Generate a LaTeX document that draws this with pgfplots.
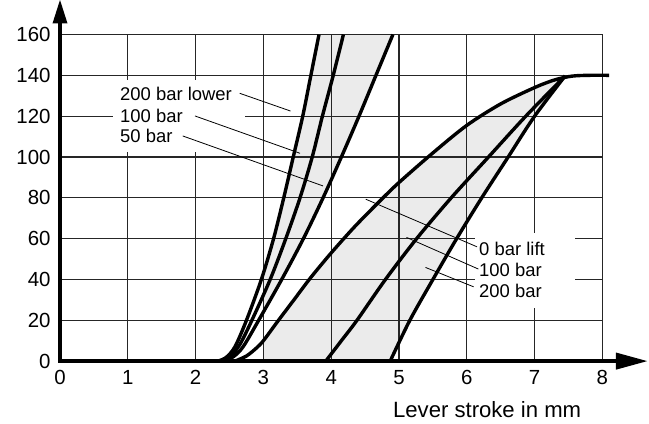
\documentclass[border=0pt]{standalone}
\usepackage{fontspec}
\setmainfont{Liberation Sans}
\usepackage{pgfplots}
\pgfplotsset{compat=1.18}
\usepgfplotslibrary{fillbetween}
\begin{document}
\begin{tikzpicture}
\begin{axis}[
  set layers,
  scale only axis, width=542.4bp, height=326.6bp,
  xmin=0, xmax=8, ymin=0, ymax=160,
  xtick={0,...,8}, ytick={0,20,...,160},
  grid=major, grid style={line width=1.1bp, black!85},
  major tick length=0pt,
  axis line style={draw=none},
  clip=false,
  /pgf/number format/assume math mode=true,
  tick label style={font=\fontsize{20.5}{24}\selectfont},
  xticklabel style={yshift=-6bp},
  yticklabel style={xshift=-6bp},
]
% left group
\addplot[line width=3.4bp, smooth, name path=c1] coordinates {(2.33,0) (2.45,1.8) (2.58,7) (2.75,20) (2.97,40) (3.15,60) (3.30,80) (3.44,100) (3.58,120) (3.70,140) (3.82,160)};
\addplot[line width=3.4bp, smooth, name path=c2] coordinates {(2.36,0) (2.5,2) (2.65,8) (2.83,20) (3.10,40) (3.33,60) (3.54,80) (3.72,100) (3.87,120) (4.03,140) (4.18,160)};
\addplot[line width=3.4bp, smooth, name path=c3] coordinates {(2.40,0) (2.55,2) (2.7,7) (2.93,20) (3.27,40) (3.59,60) (3.88,80) (4.15,100) (4.41,120) (4.66,140) (4.91,160)};
% right group
\addplot[line width=3.4bp, smooth, name path=c4] coordinates {(2.58,0) (2.75,2.5) (2.9,6.5) (3.0,10) (3.2,19) (3.45,30) (3.7,41) (4.0,53) (4.35,66) (4.75,79.5) (5.0,87.5) (5.5,102) (6.0,115.5) (6.5,126) (7.0,134) (7.3,137.8) (7.55,139.6) (7.8,140) (8.1,140)};
\addplot[line width=3.4bp, smooth, name path=c5] coordinates {(3.92,0) (4.15,10) (4.38,20) (4.8,40) (5.26,60) (5.77,80) (6.32,100) (6.87,120) (7.45,139.7)};
\addplot[line width=3.4bp, smooth, name path=c6] coordinates {(4.87,0) (5.16,20) (5.5,40) (5.85,60) (6.22,80) (6.61,100) (7.0,120) (7.45,139.7)};
\addplot[black!8] fill between[of=c1 and c3, on layer=axis background];
\addplot[black!8] fill between[of=c4 and c6, on layer=axis background];
\addplot[fill=white, draw=none, on layer=axis background] coordinates {(2.2,0) (3,0) (3,46) (2.2,46) (2.2,0)};
% label boxes
\fill[white] (axis cs:0.78,102.4) rectangle (axis cs:2.73,137.7);
\fill[white] (axis cs:6.12,26.0) rectangle (axis cs:7.60,62.7);
% leader lines
\draw[line width=0.8bp] (axis cs:2.65,131.2) -- (axis cs:3.40,122.5);
\draw[line width=0.8bp] (axis cs:1.99,120.1) -- (axis cs:3.54,101.8);
\draw[line width=0.8bp] (axis cs:1.81,110.3) -- (axis cs:3.88,85.8);
\draw[line width=0.8bp] (axis cs:4.51,79.3) -- (axis cs:6.15,56.0);
\draw[line width=0.8bp] (axis cs:5.11,60.6) -- (axis cs:6.17,45.1);
\draw[line width=0.8bp] (axis cs:5.39,45.9) -- (axis cs:6.10,36.4);
% labels
\begin{scope}[every node/.style={anchor=base west, inner sep=0pt, font=\fontsize{18.5}{22}\selectfont}]
\node at (axis cs:0.885,127.5) {200 bar lower};
\node at (axis cs:0.885,117.1) {100 bar};
\node at (axis cs:0.885,107.0) {50 bar};
\node at (axis cs:6.18,51.9) {0 bar lift};
\node at (axis cs:6.18,41.3) {100 bar};
\node at (axis cs:6.18,31.0) {200 bar};
\end{scope}
\node[anchor=base west, inner sep=0pt, font=\fontsize{22.2}{26}\selectfont] at (axis cs:4.91,-27.6) {Lever stroke in mm};
% axes with arrows
\draw[line width=4.5bp, miter limit=10] (axis cs:0,166) -- (axis cs:0,0) -- (axis cs:8.22,0);
\fill (axis cs:8.2,-4.2) -- (axis cs:8.66,0) -- (axis cs:8.2,4.2) -- cycle;
\fill (axis cs:-0.111,165.4) -- (axis cs:0,176.9) -- (axis cs:0.111,165.4) -- cycle;
\coordinate (BL) at (axis cs:-0.885,-30.4);
\coordinate (TR) at (axis cs:8.687,176.9);
\end{axis}
\pgfresetboundingbox
\path[use as bounding box] (BL) rectangle (TR);
\end{tikzpicture}
\end{document}
